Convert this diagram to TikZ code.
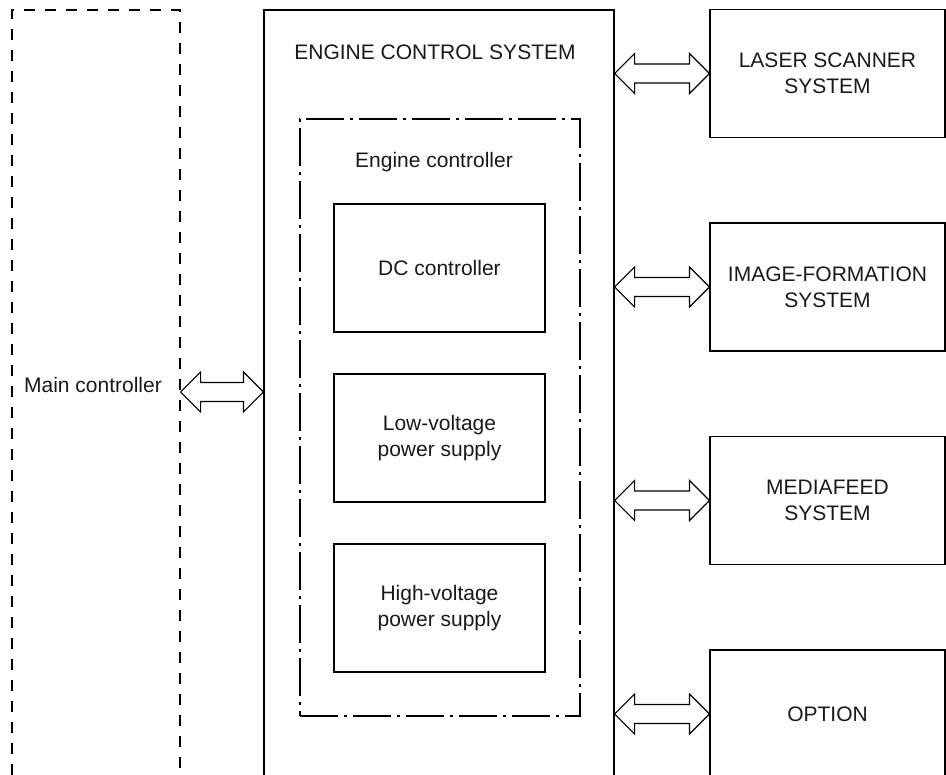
\documentclass[tikz,border=0pt]{standalone}
\usepackage{fontspec}
\setmainfont{Liberation Sans}
\usetikzlibrary{calc}
\newcommand{\bus}[2]{%
  \draw[busline] let \p1=(#1), \p2=(#2) in
    (\p1) -- (\x1+20pt,\y1+20pt) -- (\x1+20pt,\y1+9.5pt) -- (\x2-20pt,\y1+9.5pt)
    -- (\x2-20pt,\y1+20pt) -- (\p2) -- (\x2-20pt,\y1-20pt) -- (\x2-20pt,\y1-9.5pt)
    -- (\x1+20pt,\y1-9.5pt) -- (\x1+20pt,\y1-20pt) -- cycle;}

\begin{document}
\begin{tikzpicture}
                \tikzset{x=1pt, y=-1pt}
                \tikzstyle{every node}=[font=\fontsize{21}{26}\selectfont, text=black!90, align=center]
                \tikzstyle{unit}=[rectangle, draw, line width=1.2pt, inner sep=0pt, minimum width=211pt, minimum height=128pt]
                \tikzstyle{system}=[unit, minimum width=235pt]
                \tikzstyle{outer}=[rectangle, draw, line width=1.2pt, inner sep=0pt, minimum height=800pt]
                \tikzstyle{mainbox}=[outer, dash pattern=on 11pt off 10pt, minimum width=168pt]
                \tikzstyle{ecsbox}=[outer, minimum width=350pt]
                \tikzstyle{engbox}=[outer, dash pattern=on 38pt off 6pt on 3pt off 6pt, minimum width=280pt, minimum height=597pt]
                \tikzstyle{busline}=[draw, line width=1.2pt, line join=miter, fill=white]

                \useasboundingbox (0,0) rectangle (946,775);
                \clip (0,0) rectangle (946,775);

                \draw (96.0, 410.0)  node[mainbox] (mainbox)  {};
                \draw (93.0, 385.0)  node          (main)     {Main controller};

                \draw (439.0, 410.0) node[ecsbox]  (ecs)      {};
                \draw (435.0, 52.0)  node          (ecstitle) {ENGINE CONTROL SYSTEM};

                \draw (440.0, 417.5) node[engbox]  (eng)      {};
                \draw (434.0, 162.0) node          (engtitle) {Engine controller};

                \draw (439.5, 268.0) node[unit]    (dc)       {DC controller};
                \draw (439.5, 438.0) node[unit]    (lv)       {Low-voltage\\power supply};
                \draw (439.5, 608.0) node[unit]    (hv)       {High-voltage\\power supply};

                \draw (827.5, 73.5)  node[system]  (laser)    {LASER SCANNER\\SYSTEM};
                \draw (827.5, 287.0) node[system]  (image)    {IMAGE-FORMATION\\SYSTEM};
                \draw (827.5, 500.5) node[system]  (media)    {MEDIAFEED\\SYSTEM};
                \draw (827.5, 714.0) node[system]  (option)   {OPTION};

                \coordinate (mbus) at (0, 392);

                \bus{mainbox.east |- mbus}{ecs.west |- mbus}
                \bus{ecs.east |- laser.west}{laser.west}
                \bus{ecs.east |- image.west}{image.west}
                \bus{ecs.east |- media.west}{media.west}
                \bus{ecs.east |- option.west}{option.west}
\end{tikzpicture}
\end{document}
